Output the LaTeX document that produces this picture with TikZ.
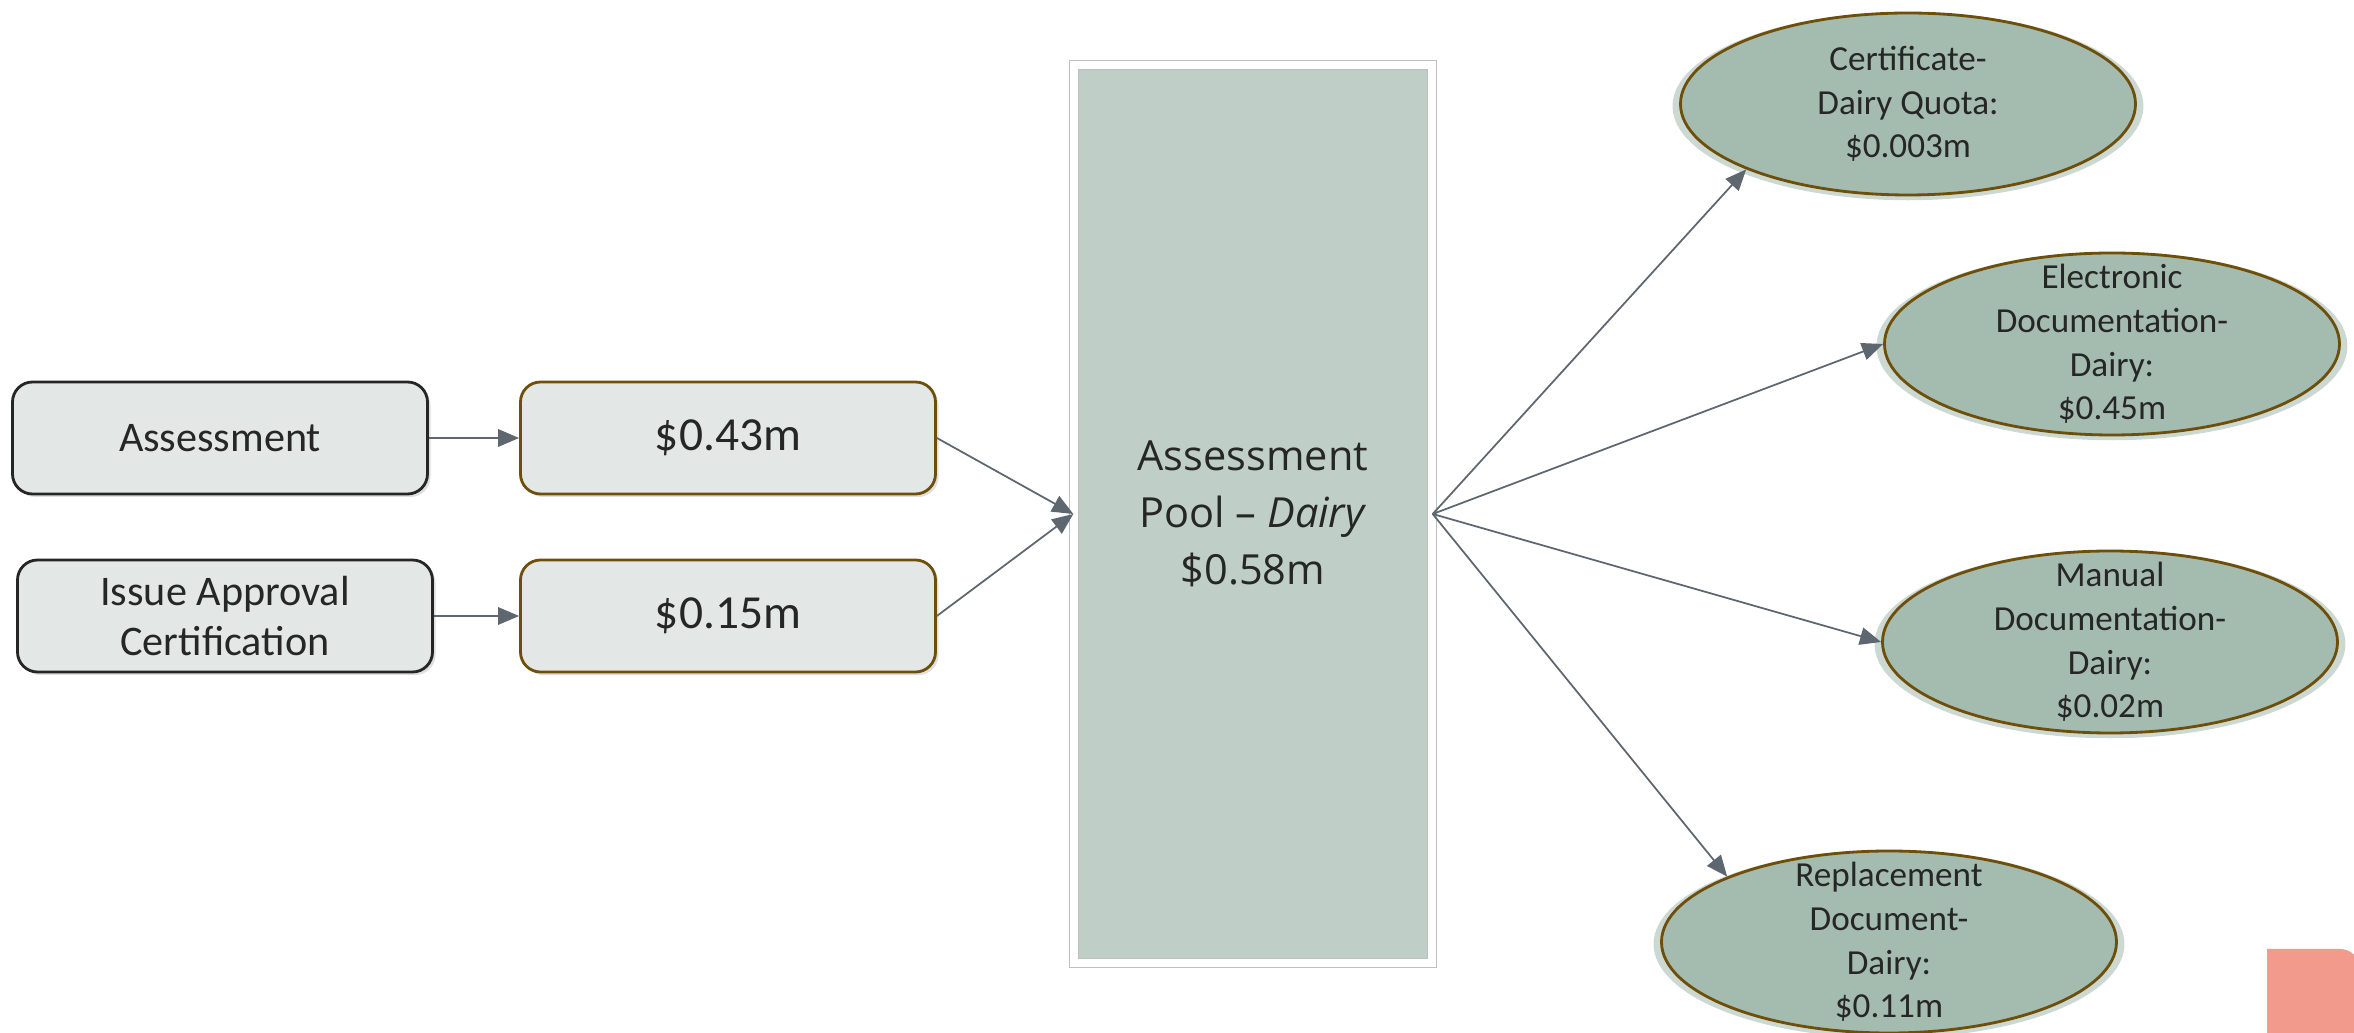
\documentclass[tikz,border=0pt]{standalone}
\usepackage{fontspec}
\setmainfont{Carlito}
\newfontfamily\poolfont[Ligatures=TeX]{Open Sans}
\usetikzlibrary{positioning,shapes.geometric,arrows.meta,shadows}

\definecolor{boxfill}{HTML}{E3E8E6}
\definecolor{boxline}{HTML}{262626}
\definecolor{costline}{HTML}{6E4F0A}
\definecolor{poolfill}{HTML}{BFCFC8}
\definecolor{docfill}{HTML}{A4BBAF}
\definecolor{glow}{HTML}{8FA89B}
\definecolor{flowgrey}{HTML}{5E6670}
\definecolor{textgrey}{HTML}{262626}
\definecolor{cornerpink}{HTML}{F29A8C}

\begin{document}
\begin{tikzpicture}[>={Triangle[length=6pt,width=5pt]}]
                \tikzset{item/.style={draw=boxline, line width=0.8pt, fill=boxfill, rounded corners=0.2cm,
                    minimum width=4.15cm, minimum height=1.12cm, align=center, text=textgrey,
                    font=\fontsize{12}{14.5}\selectfont,
                    drop shadow={opacity=0.25, shadow xshift=0.03cm, shadow yshift=-0.03cm}},
                  cost/.style={item, draw=costline, font=\fontsize{13.5}{16}\selectfont},
                  pool/.style={draw=black!25, line width=0.4pt, double=white, double distance=2.2pt,
                    fill=poolfill, minimum width=3.58cm, minimum height=8.98cm, align=center, text=textgrey,
                    font=\poolfont\fontsize{11.8}{16.2}\selectfont,
                    general shadow={fill=black!40, opacity=0.3, shadow xshift=0.04cm, shadow yshift=-0.04cm}},
                  doc/.style={ellipse, draw=costline, line width=0.8pt, fill=docfill, inner sep=0pt,
                    minimum width=4.55cm, minimum height=1.82cm,
                    general shadow={fill=glow, opacity=0.45, shadow scale=1.035, shadow yshift=-0.02cm}},
                  doctext/.style={align=center, text=textgrey, font=\fontsize{10}{12.4}\selectfont},
                  flow/.style={color=flowgrey, line width=0.5pt}}
                \useasboundingbox (0,0) rectangle (23.54,10.33);
                \node[item] (A) at (2.20, 5.95) {Assessment};
                \node[item] (IAC) at (2.25, 4.17) {Issue Approval\\Certification};
                \node[cost] (c1) at (7.28, 5.95) {\$0.43m};
                \node[cost] (c2) at (7.28, 4.17) {\$0.15m};
                \node[pool] (pool) at (12.53, 5.19) {Assessment\\Pool -- \textit{Dairy}\\\$0.58m};
                \node[doc, label={[doctext]center:{Certificate-\\Dairy Quota:\\\$0.003m}}] (cert) at (19.08, 9.29) {};
                \node[doc, label={[doctext]center:{Electronic\\Documentation-\\Dairy:\\\$0.45m}}] (edoc) at (21.12, 6.89) {};
                \node[doc, label={[doctext]center:{Manual\\Documentation-\\Dairy:\\\$0.02m}}] (mdoc) at (21.10, 3.91) {};
                \node[doc, label={[doctext]center:{Replacement\\Document-\\Dairy:\\\$0.11m}}] (rdoc) at (18.89, 0.91) {};
                \path[->, flow]
                    (A) edge (c1)
                    (IAC) edge (c2)
                    (c1.east) edge (pool.west)
                    (c2.east) edge (pool.west)
                    (pool.east) edge (cert.202)
                        edge (edoc.west)
                        edge (mdoc.west)
                        edge (rdoc.158);
                \fill[cornerpink] (22.67,0) -- (22.67,0.84) [rounded corners=0.2cm] -- (23.60,0.84) [sharp corners] -- (23.60,0) -- cycle;
            \end{tikzpicture}
\end{document}
